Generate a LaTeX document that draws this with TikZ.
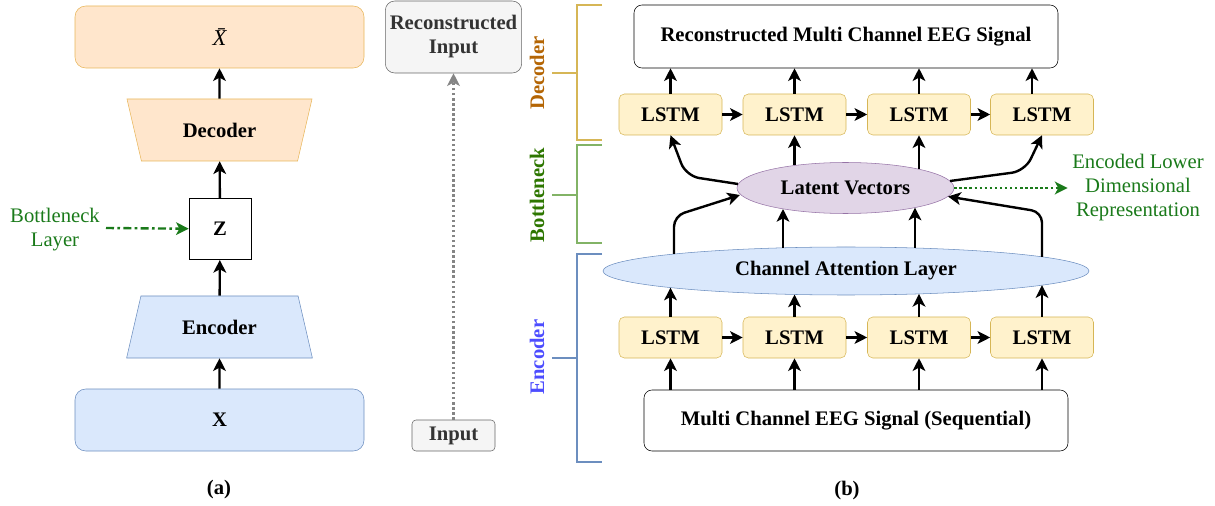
\documentclass[tikz,border=0pt]{standalone}
\usepackage{fontspec}
\setmainfont{Liberation Serif}
\usetikzlibrary{shapes.geometric,arrows.meta,positioning}

\definecolor{orfill}{HTML}{FFE6CC}
\definecolor{ordraw}{HTML}{E8B65A}
\definecolor{lsfill}{HTML}{FFF2CC}
\definecolor{lsdraw}{HTML}{D6B656}
\definecolor{blfill}{HTML}{DAE8FC}
\definecolor{bldraw}{HTML}{6C8EBF}
\definecolor{pufill}{HTML}{E1D5E7}
\definecolor{pudraw}{HTML}{9673A6}
\definecolor{gyfill}{HTML}{F5F5F5}
\definecolor{gydraw}{HTML}{666666}
\definecolor{gytext}{HTML}{333333}
\definecolor{grtext}{HTML}{1A7A1A}
\definecolor{grbrace}{HTML}{82B366}
\definecolor{decol}{HTML}{B46504}
\definecolor{bncol}{HTML}{2D7600}
\definecolor{encol}{HTML}{4D4DFF}

\begin{document}
\begin{tikzpicture}[x=0.75pt,y=-0.75pt,font=\fontsize{15.5}{18}\selectfont,
    arr/.style={-{Stealth[length=9.5pt,width=9.5pt,inset=2.5pt]},line width=1.8pt},
    bold/.style={font=\fontsize{15.5}{18}\selectfont\bfseries},
    lstm/.style={bold,draw=lsdraw,fill=lsfill,rounded corners=4pt,minimum width=77.25pt,minimum height=30.75pt},
    wide/.style={bold,draw,rounded corners=6pt,minimum width=318pt},
    trap/.style={bold,trapezium,trapezium stretches=true,trapezium left angle=72,trapezium right angle=72,
      minimum width=139.5pt,minimum height=46.5pt},
    brack/.style={line width=1.1pt}]
  \useasboundingbox (0,0) rectangle (1215,506);

  % (a) plain autoencoder
  \node[draw=ordraw,fill=orfill,rounded corners=8pt,minimum width=216.75pt,minimum height=46.5pt,
    font=\fontsize{17}{18}\selectfont\itshape] (xbar) at (219.5,37) {\=X};
  \node[trap,draw=ordraw,fill=orfill,shape border rotate=180] (dec) at (219.5,130) {Decoder};
  \node[bold,draw,fill=white,minimum width=46.5pt,minimum height=46pt] (z) at (220,229) {Z};
  \node[trap,draw=bldraw,fill=blfill] (enc) at (219.5,327) {Encoder};
  \node[bold,draw=bldraw,fill=blfill,rounded corners=8pt,minimum width=216.75pt,minimum height=46.5pt] (x) at (219.5,420) {X};
  \node[bold] (capa) at (219,490) {(a)};
  \node[grtext,align=center] (bnlab) at (55,230) {Bottleneck\\Layer};
  \coordinate (bnin) at (106,228);

  \draw[arr] (x) -- (enc);
  \draw[arr] (enc) -- (z);
  \draw[arr] (z) -- (dec);
  \draw[arr] (dec) -- (xbar);
  \draw[arr,grtext,dash pattern=on 6pt off 2.5pt on 2pt off 2.5pt] (bnin) -- (z);

  % input / output
  \node[bold,gytext,draw=gydraw,fill=gyfill,rounded corners=7pt,align=center,minimum width=98.25pt,minimum height=54pt] (recin) at (453.5,37) {Reconstructed\\Input};
  \node[bold,gytext,draw=gydraw,fill=gyfill,rounded corners=3pt,minimum width=62.25pt,minimum height=23.25pt] (inp) at (453.5,435.5) {Input};
  \draw[arr,gydraw!80,dotted] (inp) -- (recin);

  % (b) brackets
  \draw[brack,lsdraw] (602,5) -- (577,5) -- (577,140) -- (602,140) (577,73) -- (552,73);
  \draw[brack,grbrace] (602,145) -- (577,145) -- (577,243) -- (602,243) (577,195) -- (552,195);
  \draw[brack,bldraw] (602,254) -- (577,254) -- (577,462) -- (602,462) (577,358) -- (552,358);
  \node[bold,decol,rotate=90] (declab) at (537,73) {Decoder};
  \node[bold,bncol,rotate=90] (bnlab2) at (537,195) {Bottleneck};
  \node[bold,encol,rotate=90] (enclab) at (537,357) {Encoder};

  % (b) nodes
  \node[wide,minimum height=47.25pt] (out) at (846,36.5) {Reconstructed Multi Channel EEG Signal};
  \foreach \i/\px in {1/670.5,2/794.5,3/919,4/1042} {
    \node[lstm] (d\i) at (\px,114.5) {LSTM};
    \node[lstm] (e\i) at (\px,337.5) {LSTM};
  }
  \node[bold,ellipse,draw=pudraw,fill=pufill,minimum width=162.75pt,minimum height=38.25pt] (lat) at (845.5,188) {Latent Vectors};
  \node[bold,ellipse,draw=bldraw,fill=blfill,minimum width=364.5pt,minimum height=36pt] (att) at (846,271) {Channel Attention Layer};
  \node[wide,minimum height=45.75pt] (sig) at (856,420.5) {Multi Channel EEG Signal (Sequential)};
  \node[bold] (capb) at (847,491) {(b)};
  \node[grtext,align=center] (code) at (1138,188) {Encoded Lower\\Dimensional\\Representation};

  % points on the ellipses
  \coordinate (l1o) at (738,184);
  \coordinate (l2o) at (794.5,165.5);
  \coordinate (l3o) at (919,169.2);
  \coordinate (l4o) at (950,181);
  \coordinate (l1i) at (740,195);
  \coordinate (l2i) at (783,209);
  \coordinate (l3i) at (915,207.6);
  \coordinate (l4i) at (948,196.5);
  \coordinate (a1t) at (674,254);
  \coordinate (a2t) at (783,248);
  \coordinate (a3t) at (915,248);
  \coordinate (a4t) at (1042,257);
  \coordinate (a1b) at (670.5,287.6);
  \coordinate (a2b) at (794.5,294.5);
  \coordinate (a3b) at (919,293.9);
  \coordinate (a4b) at (1042,285.2);

  % encoder
  \foreach \i in {1,2,3,4} {
    \draw[arr] (e\i.south |- sig.north) -- (e\i.south);
    \draw[arr] (e\i.north) -- (a\i b);
  }
  \draw[arr] (e1) -- (e2);
  \draw[arr] (e2) -- (e3);
  \draw[arr] (e3) -- (e4);

  % bottleneck
  \draw[arr,rounded corners=8pt] (a1t) -- ++(0,-38) -- (l1i);
  \draw[arr] (a2t) -- (l2i);
  \draw[arr] (a3t) -- (l3i);
  \draw[arr,rounded corners=8pt] (a4t) -- ++(0,-45) -- (l4i);
  \draw[arr,rounded corners=10pt] (l1o) -- ++(-52,-8) -- (d1.south);
  \draw[arr] (l2o) -- (d2.south);
  \draw[arr] (l3o) -- (d3.south);
  \draw[arr,rounded corners=10pt] (l4o) -- ++(75,-10) -- (d4.south);
  \draw[arr,grtext,dotted] (lat) -- (code);

  % decoder
  \draw[arr] (d1) -- (d2);
  \draw[arr] (d2) -- (d3);
  \draw[arr] (d3) -- (d4);
  \foreach \i in {1,2,3} {
    \draw[arr] (d\i.north) -- (d\i.north |- out.south);
  }
  \draw[arr] ([xshift=-7.5pt]d4.north) -- ([xshift=-7.5pt]d4.north |- out.south);
\end{tikzpicture}
\end{document}
